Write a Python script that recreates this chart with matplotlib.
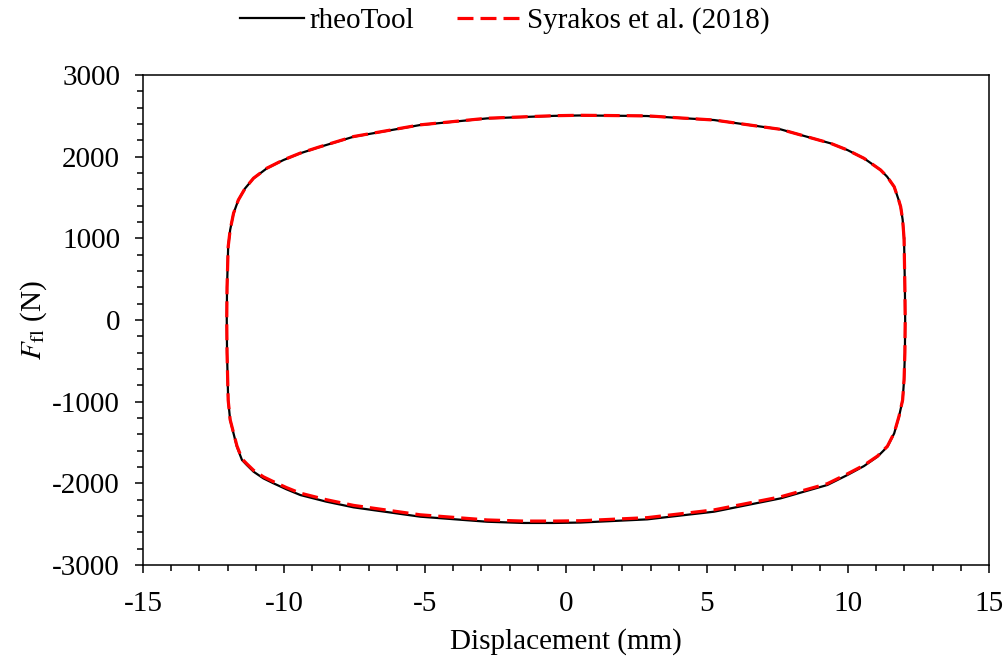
import matplotlib
matplotlib.use("Agg")
import matplotlib.pyplot as plt
from matplotlib.ticker import MultipleLocator

plt.rcParams['font.family'] = ['Liberation Serif', 'DejaVu Serif']
plt.rcParams['mathtext.fontset'] = 'stix'
plt.rcParams['axes.unicode_minus'] = False

# force-displacement loop, rheoTool
disp_rheo = [11.99, 11.94, 11.87, 11.80, 11.64, 11.39, 11.16, 10.57, 9.98, 9.39, 7.61,
             5.25, 2.88, 0.51, -0.43, -2.80, -5.17, -7.53, -8.78, -9.43, -10.02,
             -10.61, -11.08, -11.38, -11.62, -11.79, -11.91, -11.98, -12.02, -12.03,
             -12.02, -11.98, -11.91, -11.79, -11.67, -11.49, -11.32, -11.08, -10.73,
             -10.37, -9.91, -9.42, -8.50, -7.53, -5.17, -2.80, -1.50, -0.43, 0.51,
             2.88, 5.25, 7.61, 9.27, 9.98, 10.57, 11.05, 11.40, 11.64, 11.81, 11.94,
             11.99, 12.02, 12.03, 12.02, 11.99]
force_rheo = [1000, 1230, 1387, 1469, 1632, 1755, 1837, 1980, 2082, 2163, 2335,
              2449, 2498, 2505, 2500, 2469, 2388, 2245, 2114, 2041, 1959,
              1857, 1735, 1612, 1469, 1306, 1102, 897, 400, 0,
              -400, -980, -1224, -1388, -1551, -1714, -1775, -1857, -1939,
              -2000, -2073, -2143, -2224, -2294, -2408, -2470, -2485, -2485, -2480,
              -2441, -2347, -2184, -2020, -1898, -1788, -1673, -1551, -1388, -1184, -980,
              -735, -400, 0, 400, 1000]

# reference data, Syrakos et al. (2018)
disp_syr = [11.99, 11.94, 11.87, 11.80, 11.64, 11.39, 11.16, 10.57, 9.98, 9.39, 7.61,
            5.25, 2.88, 0.51, -0.43, -2.80, -5.17, -7.53, -8.78, -9.43, -10.02,
            -10.61, -11.08, -11.38, -11.62, -11.79, -11.91, -11.98, -12.02, -12.03,
            -12.02, -11.98, -11.91, -11.79, -11.67, -11.49, -11.32, -11.08, -10.73,
            -10.37, -9.91, -9.42, -8.50, -7.53, -5.17, -2.80, -1.50, -0.43, 0.51,
            2.88, 5.25, 7.61, 9.27, 9.98, 10.57, 11.05, 11.40, 11.64, 11.81, 11.94,
            11.99, 12.02, 12.03, 12.02, 11.99]
force_syr = [1000, 1230, 1387, 1469, 1632, 1755, 1837, 1980, 2082, 2163, 2335,
             2449, 2500, 2507, 2502, 2471, 2390, 2247, 2116, 2043, 1961,
             1859, 1737, 1612, 1469, 1306, 1102, 897, 400, 0,
             -400, -980, -1220, -1380, -1540, -1700, -1760, -1840, -1920,
             -1980, -2052, -2120, -2200, -2270, -2385, -2448, -2462, -2462, -2458,
             -2420, -2325, -2165, -2004, -1884, -1778, -1665, -1545, -1383, -1180, -978,
             -735, -400, 0, 400, 1000]

fig = plt.figure(figsize=(10.05, 6.57), dpi=100)
ax = fig.add_axes([0.1423, 0.14, 0.8417, 0.7458])

ax.plot(disp_rheo, force_rheo, color='black', lw=1.6, label='rheoTool')
ax.plot(disp_syr, force_syr, color='red', lw=2.3, dashes=(5, 2.2),
        label='Syrakos et al. (2018)')

ax.set_xlim(-15, 15)
ax.set_ylim(-3000, 3000)
ax.xaxis.set_major_locator(MultipleLocator(5))
ax.xaxis.set_minor_locator(MultipleLocator(1))
ax.yaxis.set_major_locator(MultipleLocator(1000))
ax.yaxis.set_minor_locator(MultipleLocator(200))
ax.tick_params(which='major', direction='out', length=6, width=1.1, labelsize=21)
ax.tick_params(which='minor', direction='out', length=4.4, width=1.1)
ax.tick_params(axis='x', which='major', pad=12.5)
ax.tick_params(axis='y', which='major', pad=10.5)
for s in ax.spines.values():
    s.set_linewidth(1.1)

ax.set_xlabel('Displacement (mm)', fontsize=21, labelpad=8)
ax.set_ylabel(r'$F_{\mathrm{fl}}$ (N)', fontsize=21, labelpad=2)

fig.legend(*ax.get_legend_handles_labels(), loc='center',
           bbox_to_anchor=(0.502, 0.968), ncol=2, frameon=False,
           fontsize=21, handlelength=2.2, handletextpad=0.2, columnspacing=1.45)

fig.savefig('out.png', dpi=100)
